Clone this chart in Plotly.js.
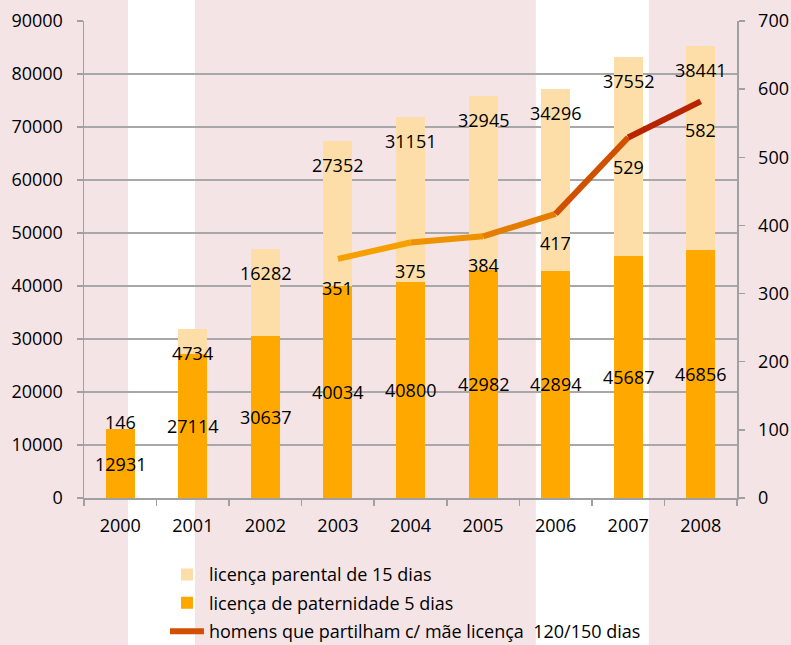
<!DOCTYPE html>
<html>
<head>
<meta charset="utf-8">
<script src="https://cdn.plot.ly/plotly-3.0.1.min.js"></script>
<style>html,body{margin:0;padding:0;background:#F5E4E6;}#chart{width:791px;height:645px;}</style>
</head>
<body>
<div id="chart"></div>
<script>
const years = ['2000','2001','2002','2003','2004','2005','2006','2007','2008'];
const paternity = [12931, 27114, 30637, 40034, 40800, 42982, 42894, 45687, 46856];
const parental = [146, 4734, 16282, 27352, 31151, 32945, 34296, 37552, 38441];
const sharing = [null, null, null, 351, 375, 384, 417, 529, 582];
const seriesNames = ['licença parental de 15 dias', 'licença de paternidade 5 dias', 'homens que partilham c/ mãe licença  120/150 dias'];

const segColors = ['#F6A000', '#EE9200', '#E47C00', '#D05000', '#B82400'];
const FONT = 'Open Sans, sans-serif';

const traces = [];
traces.push({
  type: 'bar', x: years, y: paternity, name: seriesNames[1],
  marker: {color: '#FFA800'}, width: 0.4, legendrank: 2, legendgroup: 'b',
  hoverinfo: 'skip'
});
traces.push({
  type: 'bar', x: years, y: parental, name: seriesNames[0],
  marker: {color: '#FDDDA8'}, width: 0.4, legendrank: 1, legendgroup: 'a',
  hoverinfo: 'skip'
});
// line drawn segment by segment to imitate the colour gradient
let seg = 0;
for (let i = 0; i < years.length - 1; i++) {
  if (sharing[i] === null || sharing[i + 1] === null) continue;
  traces.push({
    type: 'scatter', mode: 'lines', yaxis: 'y2',
    x: [years[i], years[i + 1]], y: [sharing[i], sharing[i + 1]],
    line: {color: segColors[seg], width: 6},
    name: seriesNames[2], legendgroup: 'c', legendrank: 3,
    showlegend: seg === 3, hoverinfo: 'skip'
  });
  seg++;
}

const annotations = [];
const pxPerUnit = 477 / 90000;
for (let i = 0; i < years.length; i++) {
  // category axis: numeric x is the category index
  annotations.push({x: i, y: paternity[i] / 2, xref: 'x', yref: 'y', text: String(paternity[i]), showarrow: false, font: {size: 18, color: '#000', family: FONT}});
  const small = parental[i] * pxPerUnit < 20;
  annotations.push({x: i, y: paternity[i] + parental[i], xref: 'x', yref: 'y', text: String(parental[i]), showarrow: false, yshift: small ? 7 : -24, font: {size: 18, color: '#000', family: FONT}});
  if (sharing[i] !== null) {
    annotations.push({x: i, y: sharing[i], xref: 'x', yref: 'y2', text: String(sharing[i]), showarrow: false, yshift: -29, font: {size: 18, color: '#000', family: FONT}});
  }
}

const layout = {
  width: 791, height: 645,
  margin: {l: 84, r: 54, t: 21, b: 147, autoexpand: false},
  paper_bgcolor: '#F5E4E6', plot_bgcolor: 'rgba(0,0,0,0)',
  font: {family: FONT, size: 18, color: '#000'},
  barmode: 'stack', bargap: 0.6,
  showlegend: true,
  xaxis: {type: 'category', categoryorder: 'array', categoryarray: years, range: [-0.5, years.length - 0.5], autorange: false,
          tickson: 'boundaries', ticks: 'outside', ticklen: 6, tickcolor: '#A0A0A0', tickwidth: 1.5, tickangle: 0, ticklabelstandoff: 11,
          showline: true, linecolor: '#A0A0A0', linewidth: 1.5, showgrid: false, tickfont: {size: 18, family: FONT}, fixedrange: true},
  yaxis: {range: [0, 90000], autorange: false, dtick: 10000, tickformat: 'd', ticks: 'outside', ticklen: 6, tickcolor: '#A0A0A0', tickwidth: 1.5,
          showline: true, linecolor: '#A0A0A0', linewidth: 1.5, gridcolor: '#A8A8A8', gridwidth: 1.5, zeroline: false,
          tickfont: {size: 18, family: FONT}, ticklabelstandoff: 10, fixedrange: true},
  yaxis2: {overlaying: 'y', side: 'right', range: [0, 700], autorange: false, dtick: 100, ticks: 'outside', ticklen: 6, tickcolor: '#A0A0A0', tickwidth: 1.5,
           showline: true, linecolor: '#A0A0A0', linewidth: 1.5, showgrid: false, zeroline: false,
           tickfont: {size: 18, family: FONT}, ticklabelstandoff: 10, fixedrange: true},
  legend: {x: 0.124, y: -0.122, xanchor: 'left', yanchor: 'top', bgcolor: 'rgba(0,0,0,0)', itemwidth: 34,
           traceorder: 'grouped', tracegroupgap: 2, font: {size: 18, family: FONT, color: '#000'}},
  shapes: [
    {type: 'rect', xref: 'paper', yref: 'paper', x0: 0.0674, x1: 0.170, y0: -0.4, y1: 1.1, fillcolor: '#FFFFFF', line: {width: 0}, layer: 'below'},
    {type: 'rect', xref: 'paper', yref: 'paper', x0: 0.692, x1: 0.865, y0: -0.4, y1: 1.1, fillcolor: '#FFFFFF', line: {width: 0}, layer: 'below'}
  ],
  annotations: annotations
};

Plotly.newPlot('chart', traces, layout, {displayModeBar: false, staticPlot: true});
</script>
</body>
</html>
